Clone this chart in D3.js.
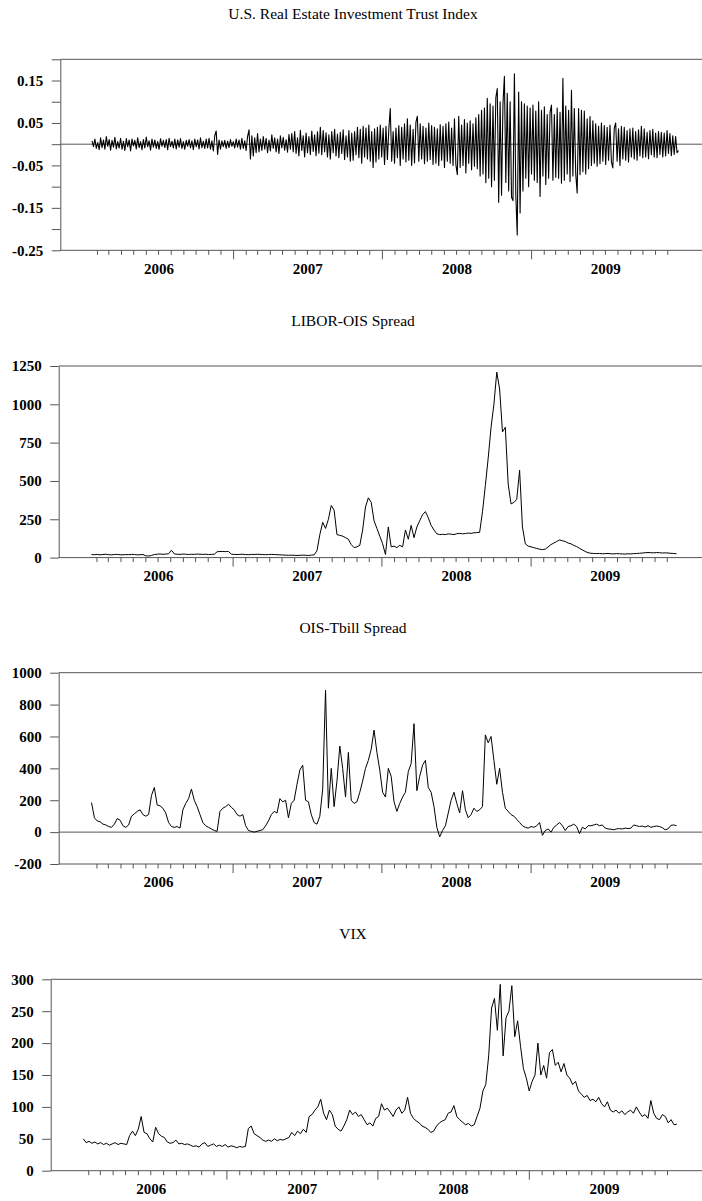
<!DOCTYPE html>
<html><head><meta charset="utf-8">
<script src="https://cdn.jsdelivr.net/npm/d3@7"></script>
<style>body{margin:0;background:#fff}svg{display:block}</style>
</head><body>
<svg id="c" width="702" height="1201"></svg>
<script>
// ---------- DATA ----------
const titles = ["U.S. Real Estate Investment Trust Index", "LIBOR-OIS Spread", "OIS-Tbill Spread", "VIX"];
const yearLabels = ["2006", "2007", "2008", "2009"];

// first observation and spacing (days) of the sampled series
const seriesStart = "2006-01-20";
const reitStepDays = 3.5;   // twice-weekly samples
const weeklyStepDays = 7;   // weekly samples

const reitTicks = [-0.25, -0.20, -0.15, -0.10, -0.05, 0, 0.05, 0.10, 0.15, 0.20];
const reitTickLabels = ["-0.25", "", "-0.15", "", "-0.05", "", "0.05", "", "0.15", ""];
const liborTicks = [0, 250, 500, 750, 1000, 1250];
const liborTickLabels = ["0", "250", "500", "750", "1000", "1250"];
const oisTicks = [-200, 0, 200, 400, 600, 800, 1000];
const oisTickLabels = ["-200", "0", "200", "400", "600", "800", "1000"];
const vixTicks = [0, 50, 100, 150, 200, 250, 300];
const vixTickLabels = ["0", "50", "100", "150", "200", "250", "300"];

const reitReturns = [
.008,-.006,.012,-.010,.004,-.013,.015,-.008,.010,-.012,.018,-.005,.011,-.014,.009,-.007,.016,-.011,.006,-.009,
.014,-.012,.007,-.015,.013,-.006,.010,-.016,.012,-.004,.009,-.011,.015,-.008,.006,-.013,.011,-.009,.017,-.006,
.008,-.014,.012,-.007,.010,-.010,.006,-.012,.013,-.005,.009,-.008,.011,-.013,.014,-.006,.007,-.009,.012,-.011,
.010,-.007,.013,-.010,.006,-.012,.009,-.005,.011,-.009,.008,-.013,.012,-.006,.010,-.011,.015,-.008,.007,-.010,
.012,-.009,.014,-.012,.008,-.016,.020,.031,-.024,.010,-.012,.008,-.006,.009,-.010,.007,-.008,.011,-.005,.006,
-.009,.012,-.007,.010,-.012,.014,-.010,.008,-.015,.018,.034,-.035,.020,-.028,.015,-.020,.025,-.018,.012,-.015,
.018,-.012,.014,-.020,.010,-.016,.022,-.010,.015,-.018,.012,-.022,.020,-.009,.016,-.014,.011,-.019,.023,-.012,
.025,-.018,.030,-.022,.015,-.028,.033,-.015,.020,-.030,.026,-.020,.018,-.025,.031,-.017,.022,-.027,.029,-.021,
.040,-.025,.032,-.018,.027,-.030,.022,-.035,.030,-.020,.035,-.028,.024,-.032,.028,-.022,.034,-.036,.020,-.030,
.032,-.040,.026,-.038,.030,-.025,.040,-.032,.035,-.045,.042,-.030,.038,-.035,.045,-.040,.030,-.055,.036,-.042,
.040,-.035,.045,-.030,.038,-.048,.042,-.036,.035,.084,-.040,.030,-.045,.038,-.032,.044,-.050,.040,-.035,.048,
-.042,.060,-.038,.045,-.050,.035,-.044,.052,.066,-.040,.048,-.035,.042,-.046,.038,-.040,.050,-.036,.044,-.048,
.040,-.045,.036,-.050,.046,-.038,.042,-.055,.048,-.040,.052,-.045,.038,-.050,.060,-.048,-.072,.066,-.055,.045,
-.050,.058,-.068,.050,-.045,.055,-.060,.048,-.052,.062,-.058,.070,-.075,.080,-.070,.085,-.091,.108,-.080,.095,
-.100,.090,-.085,.110,.131,-.137,.100,-.120,.095,.160,-.090,.120,-.110,.100,-.125,-.133,.166,-.120,-.214,.123,
-.162,.100,-.110,.095,-.080,.090,-.100,.085,-.070,.092,-.085,.078,-.090,.100,-.123,.080,-.075,.088,-.095,.070,
-.080,.075,.092,-.085,.070,-.078,.085,-.080,.075,-.092,.155,-.085,.090,-.070,.080,-.088,.127,-.075,.084,-.070,
-.115,.084,-.072,.080,-.065,.078,-.070,.060,-.058,.065,-.050,.055,-.045,.048,-.052,.042,-.046,.050,-.040,.044,
-.048,.040,-.038,.045,-.042,-.056,.038,.050,-.040,.036,-.050,.042,-.035,.040,-.038,.032,-.042,.036,-.030,.038,
-.035,.030,-.038,.034,-.028,.042,-.032,.036,-.030,.028,-.034,.032,-.025,.035,-.030,.026,-.032,.030,-.024,.028,
-.030,.026,-.028,.032,-.022,.025,-.027,.020,-.024,.018,-.020,-.015
];

const liborOis = [
20,19,21,18,20,22,19,18,20,21,19,18,20,19,21,20,18,19,20,
12,10,14,
20,22,24,21,23,25,
48,
24,22,21,23,22,20,22,21,23,22,21,22,20,21,22,
38,40,40,39,40,
22,21,20,21,22,20,19,21,20,22,21,20,19,20,21,20,19,18,17,16,15,16,15,14,15,16,15,14,16,18,
45,150,230,190,250,340,310,150,145,140,130,120,85,65,70,80,180,330,390,360,240,190,140,90,20,200,
70,75,65,80,70,180,120,210,130,200,240,280,300,260,210,180,155,150,
152,150,155,153,150,156,158,155,157,160,158,162,163,165,
300,470,650,850,1000,1210,1100,820,850,480,350,360,380,570,200,90,75,70,65,60,55,52,55,70,85,95,105,115,110,105,95,90,80,72,60,50,40,32,
28,27,26,27,25,26,27,25,24,26,25,24,23,25,24,26,27,28,30,32,33,32,31,33,32,30,31,30,28,27,25
];

const oisTbill = [
185,90,70,65,50,45,35,30,50,85,75,40,30,45,100,115,130,140,110,100,
110,230,280,170,165,150,120,60,35,30,35,25,140,180,210,270,200,160,110,60,
40,30,20,10,5,130,150,160,175,155,140,110,100,110,40,10,5,0,5,10,
15,40,70,110,130,120,210,190,200,90,180,200,300,390,420,200,190,110,60,50,
100,270,890,150,400,160,320,540,400,220,500,200,180,190,250,320,400,450,520,640,
500,390,250,220,400,350,190,130,180,220,250,380,430,680,260,350,420,450,280,250,
160,30,-30,10,40,120,200,250,180,120,260,140,90,110,150,130,140,160,610,560,
600,450,300,400,250,150,130,110,100,80,60,40,30,25,35,30,40,60,-20,10,
20,0,30,45,60,40,10,35,40,50,35,-10,30,20,40,40,45,50,40,45,
25,20,18,15,20,22,20,25,22,25,45,40,35,38,32,40,30,35,38,35,
28,15,20,42,45,40
];

const vix = [
50,44,46,43,45,42,44,41,43,40,42,44,41,43,42,41,55,62,55,65,
85,60,58,50,45,68,58,54,52,45,43,44,48,42,43,41,42,40,38,39,
37,42,44,38,40,42,38,40,38,41,37,39,38,36,38,37,38,66,70,58,
55,52,48,46,48,46,50,47,49,48,50,52,60,55,62,58,65,60,85,88,
95,100,112,90,80,95,88,70,65,62,70,80,95,88,92,85,88,80,72,75,
70,82,85,105,95,98,92,85,95,100,90,95,115,90,82,78,75,70,68,65,
60,62,70,75,78,80,90,92,102,85,80,76,72,74,70,72,85,98,125,135,
180,255,270,220,292,180,240,250,290,210,235,195,160,145,125,140,150,200,150,165,
145,185,190,165,170,155,168,150,145,135,140,125,120,115,118,110,112,108,115,105,
100,108,95,92,95,90,94,88,92,95,90,100,92,85,88,82,110,90,82,80,
88,85,75,80,72,73
];

// ---------- DRAWING ----------
const svg = d3.select("#c");
const serif = "'Liberation Serif', 'Times New Roman', serif";
const frameColor = "#555";

function datesFor(values, stepDays) {
  const t0 = new Date(seriesStart + "T00:00:00").getTime();
  return values.map((v, i) => ({ date: new Date(t0 + i * stepDays * 864e5), v }));
}

const panels = [
  { title: titles[0], data: datesFor(reitReturns, reitStepDays), domain: [-0.25, 0.20],
    ticks: reitTicks, labels: reitTickLabels, left: 60.3, x0: 84.3, perYear: 148.9,
    top: 59.3, bottom: 250.3, zeroLine: true, lw: 1.1 },
  { title: titles[1], data: datesFor(liborOis, weeklyStepDays), domain: [0, 1250],
    ticks: liborTicks, labels: liborTickLabels, left: 58.7, x0: 83.8, perYear: 148.9,
    top: 366, bottom: 557.6, zeroLine: false, lw: 1 },
  { title: titles[2], data: datesFor(oisTbill, weeklyStepDays), domain: [-200, 1000],
    ticks: oisTicks, labels: oisTickLabels, left: 58.7, x0: 83.8, perYear: 148.9,
    top: 672.7, bottom: 864, zeroLine: true, lw: 1 },
  { title: titles[3], data: datesFor(vix, weeklyStepDays), domain: [0, 300],
    ticks: vixTicks, labels: vixTickLabels, left: 50.7, x0: 75.4, perYear: 151.1,
    top: 979.3, bottom: 1170.7, zeroLine: false, lw: 1 }
];

panels.forEach(p => {
  const g = svg.append("g");
  const x = d3.scaleTime()
    .domain([new Date(2006, 0, 1), new Date(2010, 0, 1)])
    .range([p.x0, p.x0 + 4 * p.perYear]);
  const y = d3.scaleLinear().domain(p.domain).range([p.bottom, p.top]);

  // title
  g.append("text")
    .attr("x", 353).attr("y", p.top - 40)
    .attr("text-anchor", "middle")
    .attr("font-family", serif).attr("font-size", 15.5)
    .attr("fill", "#000")
    .text(p.title);

  // top frame line
  g.append("line")
    .attr("x1", p.left).attr("x2", 702).attr("y1", p.top).attr("y2", p.top)
    .attr("stroke", frameColor).attr("stroke-width", 1);

  // zero line
  if (p.zeroLine) {
    g.append("line")
      .attr("x1", p.left).attr("x2", 702).attr("y1", y(0)).attr("y2", y(0))
      .attr("stroke", frameColor).attr("stroke-width", 1);
  }

  // left axis
  const ay = g.append("g")
    .attr("transform", `translate(${p.left},0)`)
    .call(d3.axisLeft(y).tickValues(p.ticks).tickSize(8.5).tickSizeOuter(0).tickPadding(8.5)
      .tickFormat((d, i) => p.labels[i]));
  ay.attr("color", frameColor)
    .attr("font-family", serif).attr("font-size", 15).attr("font-weight", "bold");
  ay.selectAll("text").attr("fill", "#000");

  // bottom axis line
  g.append("line")
    .attr("x1", p.left).attr("x2", 702).attr("y1", p.bottom).attr("y2", p.bottom)
    .attr("stroke", frameColor).attr("stroke-width", 1);

  // monthly ticks (long on January)
  const months = d3.timeMonth.range(new Date(2006, 1, 1), new Date(2010, 0, 1));
  const ax = g.append("g")
    .attr("transform", `translate(0,${p.bottom})`)
    .call(d3.axisBottom(x).tickValues(months).tickSize(4.5).tickSizeOuter(0).tickFormat(""));
  ax.attr("color", frameColor);
  ax.select(".domain").remove();
  ax.selectAll(".tick line").attr("y2", d => d.getMonth() === 0 ? 9 : 4.5);

  // year labels centred in each year
  const mids = yearLabels.map(s => new Date(+s, 6, 2));
  const al = g.append("g")
    .attr("transform", `translate(0,${p.bottom})`)
    .call(d3.axisBottom(x).tickValues(mids).tickSize(0).tickPadding(12.6)
      .tickFormat((d, i) => yearLabels[i]));
  al.select(".domain").remove();
  al.attr("font-family", serif).attr("font-size", 15).attr("font-weight", "bold");
  al.selectAll("text").attr("fill", "#000");

  // data line
  g.append("path")
    .datum(p.data)
    .attr("fill", "none")
    .attr("stroke", "#000")
    .attr("stroke-width", p.lw)
    .attr("stroke-linejoin", "round")
    .attr("d", d3.line().x(d => x(d.date)).y(d => y(d.v)));
});
</script>
</body></html>
